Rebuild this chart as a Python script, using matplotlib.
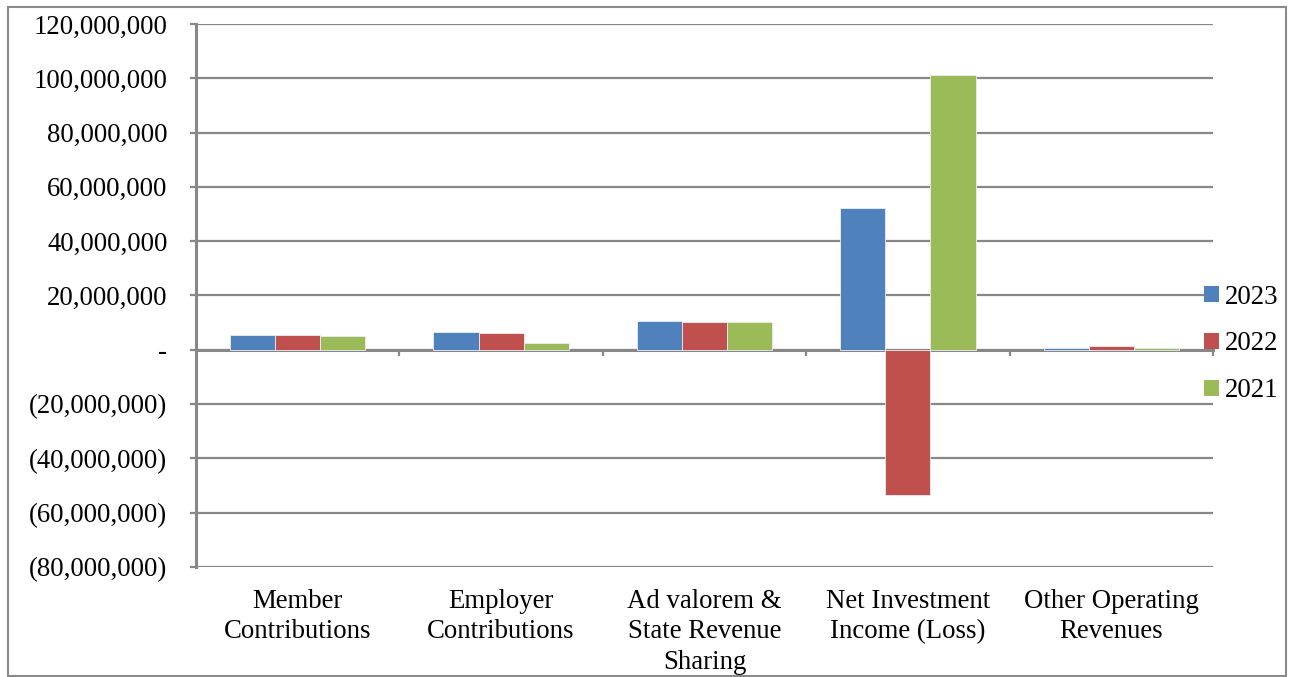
import matplotlib
matplotlib.use("Agg")
import matplotlib.pyplot as plt
from matplotlib.patches import Patch, Rectangle
from matplotlib.ticker import FuncFormatter, FixedLocator
import numpy as np

categories = ["Member\nContributions", "Employer\nContributions",
              "Ad valorem &\nState Revenue\nSharing", "Net Investment\nIncome (Loss)",
              "Other Operating\nRevenues"]
series_names = ["2023", "2022", "2021"]
values_2023 = [5.4e6, 6.4e6, 10.7e6, 52.4e6, 0.8e6]
values_2022 = [5.4e6, 6.1e6, 10.2e6, -53.3e6, 1.3e6]
values_2021 = [5.2e6, 2.4e6, 10.2e6, 101.3e6, 0.8e6]
colors = ["#4F81BD", "#C0504D", "#9BBB59"]

plt.rcParams['font.family'] = ['Liberation Serif', 'DejaVu Serif']
FS = 19.3
W, H = 1289, 677
fig = plt.figure(figsize=(W / 100, H / 100), dpi=100)
ax = fig.add_axes([196 / W, 1 - 567 / H, (1213 - 196) / W, (567 - 24) / H])

ymin, ymax = -80e6, 120e6
x = np.arange(len(categories))
bw = 0.222
data = [values_2023, values_2022, values_2021]
for i, (vals, c, name) in enumerate(zip(data, colors, series_names)):
    ax.bar(x + (i - 1) * bw, vals, bw, color=c, edgecolor='#e8eef5', linewidth=0.6,
           label=name, zorder=3)

ax.set_xlim(-0.5, len(categories) - 0.5)
ax.set_ylim(ymin, ymax)
grid_c = '#878787'
ax.set_yticks(np.arange(ymin, ymax + 1, 20e6))

def fmt(v, pos):
    if abs(v) < 1:
        return "-"
    if v < 0:
        return "({:,.0f})".format(-v)
    return "{:,.0f}".format(v)

ax.yaxis.set_major_formatter(FuncFormatter(fmt))
ax.yaxis.grid(True, color=grid_c, linewidth=1.6, zorder=0)
ax.tick_params(axis='y', length=4.3, width=1.6, color=grid_c, labelsize=FS, pad=16.3)

for s in ['top', 'right', 'bottom']:
    ax.spines[s].set_visible(False)
ax.spines['left'].set_color(grid_c)
ax.spines['left'].set_linewidth(2.2)

# category labels
ax.set_xticks(x)
ax.set_xticklabels(categories, fontsize=FS, linespacing=1.3)
ax.tick_params(axis='x', length=0, pad=15.5)

# zero axis with boundary ticks
loc = (0 - ymin) / (ymax - ymin)
sec = ax.secondary_xaxis(loc)
sec.xaxis.set_major_locator(FixedLocator(np.arange(-0.5, len(categories), 1.0)[1:]))
sec.set_xticklabels([])
sec.tick_params(axis='x', direction='out', length=4.3, width=1.6, color=grid_c)
sec.spines['bottom'].set_color(grid_c)
sec.spines['bottom'].set_linewidth(2.2)
for s in ['top', 'left', 'right']:
    sec.spines[s].set_visible(False)

handles = [Patch(facecolor=c, edgecolor='none') for c in colors]
fig.legend(handles, series_names, loc='center left', bbox_to_anchor=(1204 / W, 1 - 344 / H),
           frameon=False, fontsize=FS, handlelength=0.55, handleheight=0.55,
           handletextpad=0.22, labelspacing=0.82, borderaxespad=0, borderpad=0)

fig.patches.append(Rectangle((7.5 / W, 1 - 676 / H), (1286 - 7.5) / W, (676 - 6.5) / H,
                             transform=fig.transFigure, fill=False,
                             edgecolor='#8a8a8a', linewidth=1.5))

fig.savefig("out.png", dpi=100)
